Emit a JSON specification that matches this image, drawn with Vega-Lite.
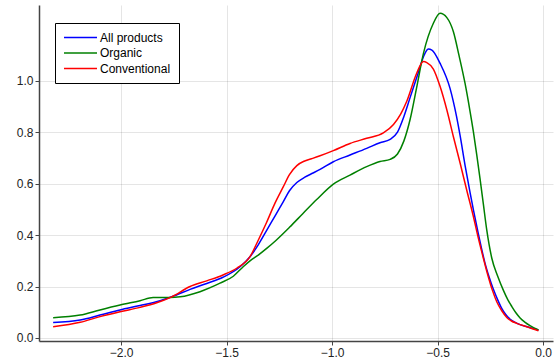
{
  "$schema": "https://vega.github.io/schema/vega-lite/v6.json",
  "autosize": {"type": "none"},
  "padding": {"left": 39, "top": 5, "right": 5, "bottom": 19},
  "width": 514,
  "height": 336,
  "background": "white",
  "config": {
    "view": {"stroke": null},
    "font": "Liberation Sans"
  },
  "datasets": {
    "curves": [
      {"x": -2.322, "y": 0.060, "s": "All products"},
      {"x": -2.194, "y": 0.070, "s": "All products"},
      {"x": -2.100, "y": 0.089, "s": "All products"},
      {"x": -2.005, "y": 0.109, "s": "All products"},
      {"x": -1.910, "y": 0.126, "s": "All products"},
      {"x": -1.815, "y": 0.145, "s": "All products"},
      {"x": -1.760, "y": 0.160, "s": "All products"},
      {"x": -1.673, "y": 0.189, "s": "All products"},
      {"x": -1.594, "y": 0.212, "s": "All products"},
      {"x": -1.517, "y": 0.236, "s": "All products"},
      {"x": -1.436, "y": 0.277, "s": "All products"},
      {"x": -1.389, "y": 0.316, "s": "All products"},
      {"x": -1.350, "y": 0.362, "s": "All products"},
      {"x": -1.310, "y": 0.418, "s": "All products"},
      {"x": -1.270, "y": 0.475, "s": "All products"},
      {"x": -1.231, "y": 0.530, "s": "All products"},
      {"x": -1.202, "y": 0.572, "s": "All products"},
      {"x": -1.167, "y": 0.604, "s": "All products"},
      {"x": -1.129, "y": 0.625, "s": "All products"},
      {"x": -1.090, "y": 0.641, "s": "All products"},
      {"x": -1.057, "y": 0.655, "s": "All products"},
      {"x": -0.994, "y": 0.685, "s": "All products"},
      {"x": -0.915, "y": 0.711, "s": "All products"},
      {"x": -0.836, "y": 0.737, "s": "All products"},
      {"x": -0.773, "y": 0.759, "s": "All products"},
      {"x": -0.725, "y": 0.772, "s": "All products"},
      {"x": -0.690, "y": 0.800, "s": "All products"},
      {"x": -0.660, "y": 0.860, "s": "All products"},
      {"x": -0.630, "y": 0.935, "s": "All products"},
      {"x": -0.592, "y": 1.030, "s": "All products"},
      {"x": -0.567, "y": 1.093, "s": "All products"},
      {"x": -0.544, "y": 1.123, "s": "All products"},
      {"x": -0.527, "y": 1.119, "s": "All products"},
      {"x": -0.488, "y": 1.067, "s": "All products"},
      {"x": -0.441, "y": 0.970, "s": "All products"},
      {"x": -0.410, "y": 0.860, "s": "All products"},
      {"x": -0.393, "y": 0.785, "s": "All products"},
      {"x": -0.370, "y": 0.672, "s": "All products"},
      {"x": -0.346, "y": 0.565, "s": "All products"},
      {"x": -0.330, "y": 0.497, "s": "All products"},
      {"x": -0.307, "y": 0.405, "s": "All products"},
      {"x": -0.291, "y": 0.345, "s": "All products"},
      {"x": -0.275, "y": 0.290, "s": "All products"},
      {"x": -0.255, "y": 0.235, "s": "All products"},
      {"x": -0.236, "y": 0.190, "s": "All products"},
      {"x": -0.216, "y": 0.150, "s": "All products"},
      {"x": -0.196, "y": 0.115, "s": "All products"},
      {"x": -0.176, "y": 0.090, "s": "All products"},
      {"x": -0.156, "y": 0.073, "s": "All products"},
      {"x": -0.130, "y": 0.060, "s": "All products"},
      {"x": -0.109, "y": 0.052, "s": "All products"},
      {"x": -0.060, "y": 0.040, "s": "All products"},
      {"x": -0.022, "y": 0.031, "s": "All products"},

      {"x": -2.322, "y": 0.079, "s": "Organic"},
      {"x": -2.194, "y": 0.089, "s": "Organic"},
      {"x": -2.100, "y": 0.109, "s": "Organic"},
      {"x": -2.005, "y": 0.128, "s": "Organic"},
      {"x": -1.910, "y": 0.145, "s": "Organic"},
      {"x": -1.848, "y": 0.157, "s": "Organic"},
      {"x": -1.768, "y": 0.157, "s": "Organic"},
      {"x": -1.720, "y": 0.160, "s": "Organic"},
      {"x": -1.626, "y": 0.180, "s": "Organic"},
      {"x": -1.531, "y": 0.213, "s": "Organic"},
      {"x": -1.468, "y": 0.240, "s": "Organic"},
      {"x": -1.420, "y": 0.278, "s": "Organic"},
      {"x": -1.389, "y": 0.300, "s": "Organic"},
      {"x": -1.350, "y": 0.322, "s": "Organic"},
      {"x": -1.310, "y": 0.348, "s": "Organic"},
      {"x": -1.265, "y": 0.380, "s": "Organic"},
      {"x": -1.202, "y": 0.430, "s": "Organic"},
      {"x": -1.139, "y": 0.483, "s": "Organic"},
      {"x": -1.073, "y": 0.538, "s": "Organic"},
      {"x": -0.994, "y": 0.598, "s": "Organic"},
      {"x": -0.915, "y": 0.633, "s": "Organic"},
      {"x": -0.836, "y": 0.666, "s": "Organic"},
      {"x": -0.773, "y": 0.686, "s": "Organic"},
      {"x": -0.725, "y": 0.694, "s": "Organic"},
      {"x": -0.690, "y": 0.715, "s": "Organic"},
      {"x": -0.660, "y": 0.765, "s": "Organic"},
      {"x": -0.630, "y": 0.850, "s": "Organic"},
      {"x": -0.600, "y": 0.970, "s": "Organic"},
      {"x": -0.567, "y": 1.106, "s": "Organic"},
      {"x": -0.520, "y": 1.223, "s": "Organic"},
      {"x": -0.488, "y": 1.262, "s": "Organic"},
      {"x": -0.456, "y": 1.245, "s": "Organic"},
      {"x": -0.425, "y": 1.190, "s": "Organic"},
      {"x": -0.399, "y": 1.100, "s": "Organic"},
      {"x": -0.370, "y": 0.990, "s": "Organic"},
      {"x": -0.346, "y": 0.880, "s": "Organic"},
      {"x": -0.330, "y": 0.800, "s": "Organic"},
      {"x": -0.314, "y": 0.710, "s": "Organic"},
      {"x": -0.299, "y": 0.620, "s": "Organic"},
      {"x": -0.283, "y": 0.520, "s": "Organic"},
      {"x": -0.267, "y": 0.420, "s": "Organic"},
      {"x": -0.243, "y": 0.310, "s": "Organic"},
      {"x": -0.215, "y": 0.240, "s": "Organic"},
      {"x": -0.188, "y": 0.185, "s": "Organic"},
      {"x": -0.168, "y": 0.150, "s": "Organic"},
      {"x": -0.148, "y": 0.122, "s": "Organic"},
      {"x": -0.128, "y": 0.097, "s": "Organic"},
      {"x": -0.109, "y": 0.078, "s": "Organic"},
      {"x": -0.085, "y": 0.061, "s": "Organic"},
      {"x": -0.062, "y": 0.048, "s": "Organic"},
      {"x": -0.022, "y": 0.031, "s": "Organic"},

      {"x": -2.322, "y": 0.044, "s": "Conventional"},
      {"x": -2.194, "y": 0.061, "s": "Conventional"},
      {"x": -2.100, "y": 0.083, "s": "Conventional"},
      {"x": -2.005, "y": 0.102, "s": "Conventional"},
      {"x": -1.910, "y": 0.119, "s": "Conventional"},
      {"x": -1.831, "y": 0.137, "s": "Conventional"},
      {"x": -1.760, "y": 0.160, "s": "Conventional"},
      {"x": -1.673, "y": 0.200, "s": "Conventional"},
      {"x": -1.594, "y": 0.222, "s": "Conventional"},
      {"x": -1.517, "y": 0.245, "s": "Conventional"},
      {"x": -1.452, "y": 0.271, "s": "Conventional"},
      {"x": -1.389, "y": 0.316, "s": "Conventional"},
      {"x": -1.350, "y": 0.380, "s": "Conventional"},
      {"x": -1.310, "y": 0.450, "s": "Conventional"},
      {"x": -1.270, "y": 0.525, "s": "Conventional"},
      {"x": -1.231, "y": 0.588, "s": "Conventional"},
      {"x": -1.202, "y": 0.635, "s": "Conventional"},
      {"x": -1.167, "y": 0.670, "s": "Conventional"},
      {"x": -1.130, "y": 0.688, "s": "Conventional"},
      {"x": -1.092, "y": 0.698, "s": "Conventional"},
      {"x": -1.057, "y": 0.708, "s": "Conventional"},
      {"x": -0.994, "y": 0.728, "s": "Conventional"},
      {"x": -0.915, "y": 0.756, "s": "Conventional"},
      {"x": -0.836, "y": 0.776, "s": "Conventional"},
      {"x": -0.757, "y": 0.797, "s": "Conventional"},
      {"x": -0.709, "y": 0.830, "s": "Conventional"},
      {"x": -0.675, "y": 0.870, "s": "Conventional"},
      {"x": -0.646, "y": 0.920, "s": "Conventional"},
      {"x": -0.599, "y": 1.029, "s": "Conventional"},
      {"x": -0.567, "y": 1.074, "s": "Conventional"},
      {"x": -0.551, "y": 1.070, "s": "Conventional"},
      {"x": -0.520, "y": 1.045, "s": "Conventional"},
      {"x": -0.488, "y": 0.977, "s": "Conventional"},
      {"x": -0.456, "y": 0.886, "s": "Conventional"},
      {"x": -0.425, "y": 0.782, "s": "Conventional"},
      {"x": -0.393, "y": 0.679, "s": "Conventional"},
      {"x": -0.362, "y": 0.575, "s": "Conventional"},
      {"x": -0.330, "y": 0.471, "s": "Conventional"},
      {"x": -0.306, "y": 0.385, "s": "Conventional"},
      {"x": -0.283, "y": 0.310, "s": "Conventional"},
      {"x": -0.262, "y": 0.245, "s": "Conventional"},
      {"x": -0.240, "y": 0.185, "s": "Conventional"},
      {"x": -0.219, "y": 0.140, "s": "Conventional"},
      {"x": -0.195, "y": 0.105, "s": "Conventional"},
      {"x": -0.172, "y": 0.080, "s": "Conventional"},
      {"x": -0.150, "y": 0.066, "s": "Conventional"},
      {"x": -0.125, "y": 0.057, "s": "Conventional"},
      {"x": -0.077, "y": 0.044, "s": "Conventional"},
      {"x": -0.022, "y": 0.028, "s": "Conventional"}
    ]
  },
  "data": {"name": "curves"},
  "mark": {"type": "line", "interpolate": "monotone", "strokeWidth": 1.5, "clip": true},
  "encoding": {
    "x": {
      "field": "x",
      "type": "quantitative",
      "scale": {"domain": [-2.389, 0.047], "nice": false, "zero": false},
      "axis": {
        "title": null,
        "values": [-2, -1.5, -1, -0.5, 0],
        "labelExpr": "datum.value < 0 ? '−' + format(abs(datum.value), '.1f') : format(datum.value, '.1f')",
        "labelFontSize": 12,
        "labelColor": "#222222",
        "labelPadding": 2,
        "tickSize": 4,
        "tickColor": "#444444",
        "domainColor": "#444444",
        "domainWidth": 1.5,
        "gridColor": "#000000",
        "gridOpacity": 0.1,
        "grid": true
      }
    },
    "y": {
      "field": "y",
      "type": "quantitative",
      "scale": {"domain": [-0.0117, 1.294], "nice": false, "zero": false},
      "axis": {
        "title": null,
        "values": [0, 0.2, 0.4, 0.6, 0.8, 1.0],
        "format": ".1f",
        "labelFontSize": 12,
        "labelColor": "#222222",
        "labelPadding": 2,
        "tickSize": 4,
        "tickColor": "#444444",
        "domainColor": "#444444",
        "domainWidth": 1.5,
        "gridColor": "#000000",
        "gridOpacity": 0.1,
        "grid": true
      }
    },
    "color": {
      "field": "s",
      "type": "nominal",
      "scale": {"domain": ["All products", "Organic", "Conventional"], "range": ["#0000ff", "#008000", "#ff0000"]},
      "legend": {
        "title": null,
        "orient": "none",
        "legendX": 16,
        "legendY": 18,
        "symbolType": "M-1,0H5",
        "symbolSize": 121,
        "symbolStrokeWidth": 1.5,
        "labelFontSize": 12,
        "labelOffset": 24,
        "rowPadding": 2.5,
        "padding": 8,
        "fillColor": "white",
        "strokeColor": "#000000",
        "cornerRadius": 0
      }
    }
  }
}
